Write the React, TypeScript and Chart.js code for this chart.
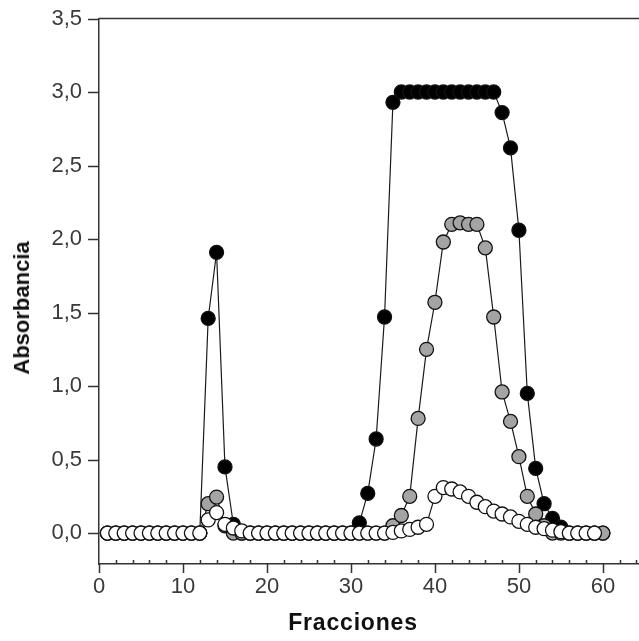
import React, { useEffect, useRef } from "react";
import { Chart, registerables } from "chart.js";

Chart.register(...registerables);

// Fractions 1..60
const fractions: number[] = Array.from({ length: 60 }, (_, i) => i + 1);

const blackSeries: number[] = [
  0, 0, 0, 0, 0, 0, 0, 0, 0, 0, 0, 0,
  1.46, 1.91, 0.45, 0.06,
  0, 0, 0, 0, 0, 0, 0, 0, 0, 0, 0, 0, 0, 0,
  0.07, 0.27, 0.64, 1.47, 2.93,
  3.0, 3.0, 3.0, 3.0, 3.0, 3.0, 3.0, 3.0, 3.0, 3.0, 3.0, 3.0,
  2.86, 2.62, 2.06, 0.95, 0.44, 0.2, 0.1, 0.04,
  0, 0, 0, 0, 0,
];

const graySeries: number[] = [
  0, 0, 0, 0, 0, 0, 0, 0, 0, 0, 0, 0,
  0.2, 0.245, 0.05,
  0, 0, 0, 0, 0, 0, 0, 0, 0, 0, 0, 0, 0, 0, 0, 0, 0, 0, 0,
  0.05, 0.12, 0.25, 0.78, 1.25, 1.57, 1.98, 2.1, 2.11, 2.1, 2.1, 1.94, 1.47,
  0.96, 0.76, 0.52, 0.25, 0.13, 0.05,
  0, 0, 0, 0, 0, 0, 0,
];

const whiteSeries: number[] = [
  0, 0, 0, 0, 0, 0, 0, 0, 0, 0, 0, 0,
  0.09, 0.14, 0.06, 0.035, 0.015,
  0, 0, 0, 0, 0, 0, 0, 0, 0, 0, 0, 0, 0, 0, 0, 0, 0,
  0.005, 0.015, 0.025, 0.04, 0.06,
  0.25, 0.31, 0.3, 0.28, 0.25, 0.21, 0.18, 0.15, 0.13, 0.11, 0.08, 0.06, 0.04, 0.03,
  0.02, 0.01, 0, 0, 0, 0,
];

const yTickValues: number[] = [0, 0.5, 1, 1.5, 2, 2.5, 3, 3.5];
const xTickValues: number[] = Array.from({ length: 33 }, (_, i) => i * 2);

const toPoints = (vals: number[]) => fractions.map((f, i) => ({ x: f, y: vals[i] }));

const axisPlugin = {
  id: "axisDecor",
  afterDraw(chart: any) {
    const { ctx, chartArea, scales } = chart;
    const xs = scales.x;
    const ys = scales.y;
    ctx.save();
    ctx.strokeStyle = "#333";
    ctx.lineWidth = 1.5;
    ctx.beginPath();
    // top border
    ctx.moveTo(chartArea.left, chartArea.top);
    ctx.lineTo(chartArea.right, chartArea.top);
    // y ticks
    yTickValues.forEach((v) => {
      const py = Math.round(ys.getPixelForValue(v)) + 0.5;
      ctx.moveTo(chartArea.left - 11, py);
      ctx.lineTo(chartArea.left, py);
    });
    // x ticks
    xTickValues.forEach((v) => {
      const px = Math.round(xs.getPixelForValue(v)) + 0.5;
      if (v % 10 === 0) {
        ctx.moveTo(px, chartArea.bottom);
        ctx.lineTo(px, chartArea.bottom + 9);
      } else {
        ctx.moveTo(px, chartArea.bottom - 4);
        ctx.lineTo(px, chartArea.bottom);
      }
    });
    ctx.stroke();
    ctx.restore();
  },
};

export default function App() {
  const ref = useRef<HTMLCanvasElement | null>(null);

  useEffect(() => {
    if (!ref.current) return;
    const common = {
      showLine: true,
      borderColor: "#1a1a1a",
      borderWidth: 1.2,
      pointRadius: 7,
      pointBorderColor: "#111",
      pointBorderWidth: 1.3,
    };
    const chart = new Chart(ref.current, {
      type: "scatter",
      data: {
        datasets: [
          { ...common, label: "white", data: toPoints(whiteSeries), pointBackgroundColor: "#ffffff" },
          { ...common, label: "gray", data: toPoints(graySeries), pointBackgroundColor: "#a4a4a4" },
          { ...common, label: "black", data: toPoints(blackSeries), pointBackgroundColor: "#000000" },
        ],
      },
      options: {
        responsive: false,
        animation: false,
        devicePixelRatio: 1,
        layout: { autoPadding: false, padding: { top: 18.5, right: 0, left: 0, bottom: 0 } },
        plugins: { legend: { display: false }, tooltip: { enabled: false } },
        scales: {
          x: {
            type: "linear",
            min: 0,
            max: 64.3,
            grid: { display: false, drawTicks: false },
            border: { display: true, color: "#333", width: 1.5 },
            afterBuildTicks: (s: any) => {
              s.ticks = xTickValues.map((v) => ({ value: v }));
            },
            afterFit: (s: any) => {
              s.height = 77;
              s.paddingLeft = 0;
              s.paddingRight = 0;
            },
            ticks: {
              autoSkip: false,
              maxRotation: 0,
              padding: 10,
              color: "#3a3a3a",
              font: { family: "'Liberation Sans', Arial, sans-serif", size: 22 },
              callback: (v: any) => (Number(v) % 10 === 0 ? String(v) : ""),
            },
          },
          y: {
            type: "linear",
            min: -0.21,
            max: 3.5,
            grid: { display: false, drawTicks: false },
            border: { display: true, color: "#333", width: 1.5 },
            afterBuildTicks: (s: any) => {
              s.ticks = yTickValues.map((v) => ({ value: v }));
            },
            afterFit: (s: any) => {
              s.width = 99;
              s.paddingTop = 0;
              s.paddingBottom = 0;
            },
            ticks: {
              padding: 17,
              color: "#3a3a3a",
              font: { family: "'Liberation Sans', Arial, sans-serif", size: 22 },
              callback: (v: any) => Number(v).toFixed(1).replace(".", ","),
            },
          },
        },
      },
      plugins: [axisPlugin],
    });
    return () => chart.destroy();
  }, []);

  return (
    <div style={{ position: "fixed", left: 0, top: 0, width: 639, height: 641, background: "#fff", overflow: "hidden" }}>
      <canvas ref={ref} width={639} height={641} style={{ position: "absolute", left: 0, top: 0 }} />
      <div
        style={{
          position: "absolute",
          left: 353,
          top: 622,
          transform: "translate(-50%, -50%)",
          fontFamily: "'Liberation Sans', Arial, sans-serif",
          fontWeight: "bold",
          fontSize: 23,
          letterSpacing: 0.8,
          color: "#111",
          whiteSpace: "nowrap",
        }}
      >
        Fracciones
      </div>
      <div
        style={{
          position: "absolute",
          left: 22,
          top: 308,
          transform: "translate(-50%, -50%) rotate(-90deg)",
          fontFamily: "'Liberation Sans', Arial, sans-serif",
          fontWeight: "bold",
          fontSize: 22,
          color: "#111",
          whiteSpace: "nowrap",
        }}
      >
        Absorbancia
      </div>
    </div>
  );
}
